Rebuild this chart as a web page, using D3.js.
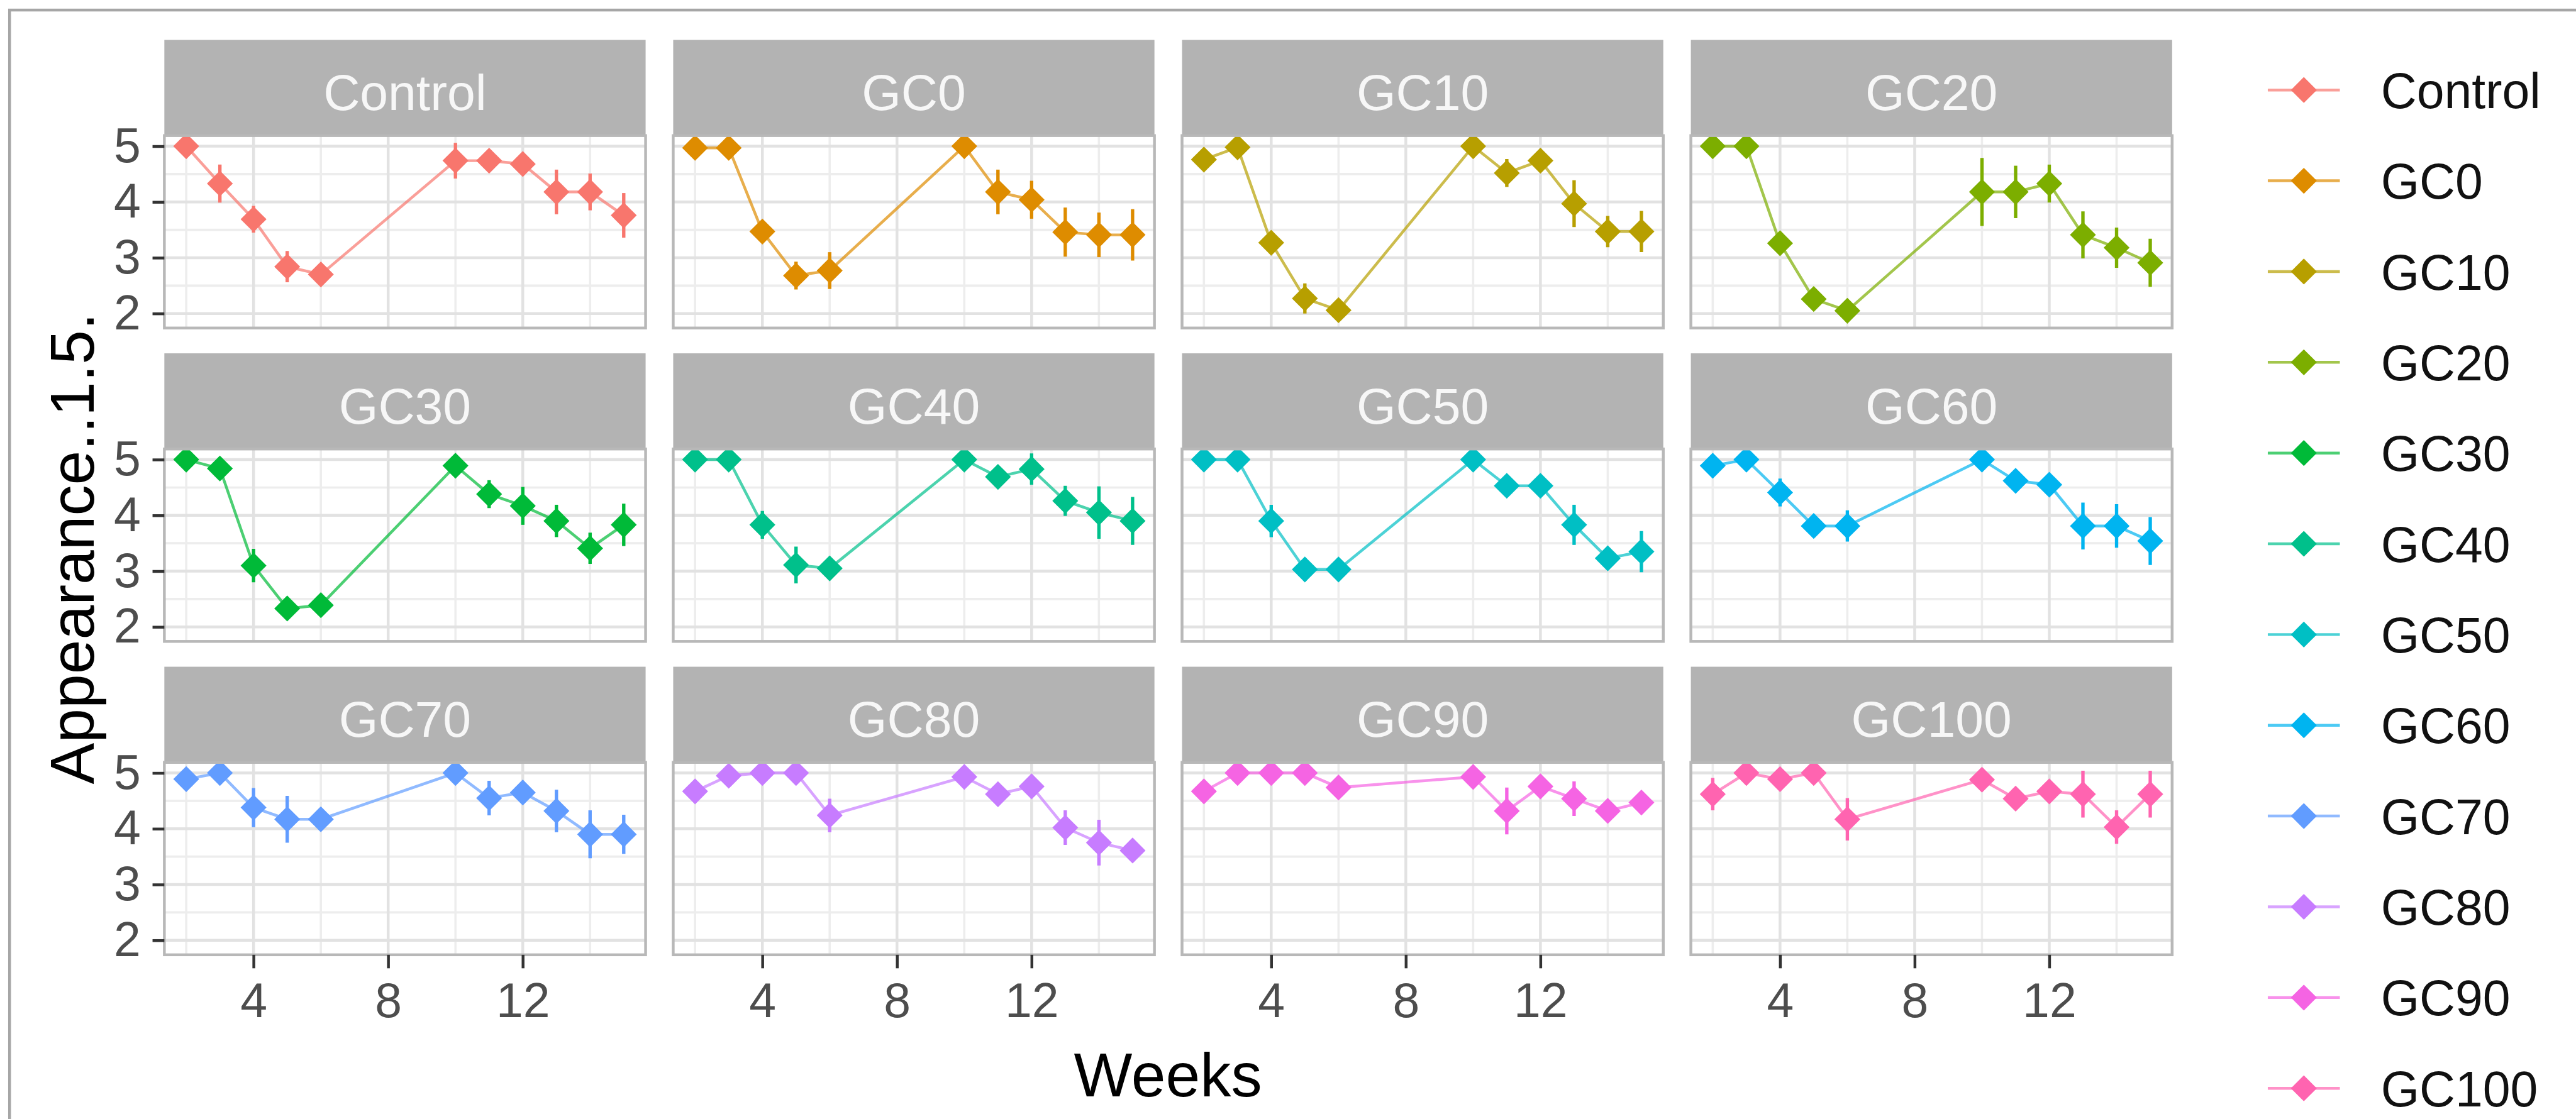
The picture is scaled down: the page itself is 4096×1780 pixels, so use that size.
<!DOCTYPE html>
<html>
<head>
<meta charset="utf-8">
<script src="https://cdn.jsdelivr.net/npm/d3@7"></script>
<style>
  body { margin: 0; background: #fff; }
  svg { display: block; }
  text { font-family: "Liberation Sans", Arial, sans-serif; }
</style>
</head>
<body>
<div id="chart"></div>
<script>
// facet names, weeks and ggplot hue colours
const groups = ['Control', 'GC0', 'GC10', 'GC20', 'GC30', 'GC40', 'GC50', 'GC60', 'GC70', 'GC80', 'GC90', 'GC100'];
const weeks = [2, 3, 4, 5, 6, 10, 11, 12, 13, 14, 15];
const colors = ['#F8766D', '#DE8C00', '#B79F00', '#7CAE00', '#00BA38', '#00C08B', '#00BFC4', '#00B4F0', '#619CFF', '#C77CFF', '#F564E3', '#FF64B0'];

// mean appearance score per week
const appControl = [5.0, 4.33, 3.69, 2.84, 2.70, 4.74, 4.74, 4.68, 4.18, 4.18, 3.76];
const appGC0 = [4.97, 4.97, 3.47, 2.68, 2.77, 5.0, 4.18, 4.04, 3.46, 3.41, 3.41];
const appGC10 = [4.76, 4.98, 3.27, 2.27, 2.06, 5.0, 4.52, 4.74, 3.97, 3.47, 3.47];
const appGC20 = [5.0, 5.0, 3.26, 2.26, 2.05, 4.18, 4.18, 4.33, 3.41, 3.18, 2.91];
const appGC30 = [5.0, 4.84, 3.10, 2.33, 2.39, 4.89, 4.38, 4.17, 3.90, 3.41, 3.83];
const appGC40 = [5.0, 5.0, 3.83, 3.11, 3.05, 5.0, 4.69, 4.83, 4.26, 4.05, 3.90];
const appGC50 = [5.0, 5.0, 3.90, 3.03, 3.03, 5.0, 4.53, 4.53, 3.83, 3.23, 3.35];
const appGC60 = [4.89, 5.0, 4.41, 3.81, 3.81, 5.0, 4.62, 4.55, 3.81, 3.81, 3.54];
const appGC70 = [4.89, 5.0, 4.38, 4.17, 4.17, 5.0, 4.55, 4.65, 4.32, 3.90, 3.90];
const appGC80 = [4.67, 4.95, 5.0, 5.0, 4.24, 4.93, 4.62, 4.76, 4.02, 3.75, 3.61];
const appGC90 = [4.67, 5.0, 5.0, 5.0, 4.74, 4.93, 4.32, 4.76, 4.54, 4.32, 4.47];
const appGC100 = [4.62, 5.0, 4.89, 5.0, 4.17, 4.88, 4.54, 4.67, 4.62, 4.03, 4.62];

// error bar half-lengths
const errControl = [0.0, 0.34, 0.24, 0.28, 0.10, 0.32, 0.12, 0.15, 0.40, 0.33, 0.40];
const errGC0 = [0.05, 0.05, 0.10, 0.25, 0.33, 0.0, 0.40, 0.34, 0.44, 0.40, 0.46];
const errGC10 = [0.08, 0.05, 0.10, 0.27, 0.15, 0.0, 0.25, 0.20, 0.42, 0.28, 0.37];
const errGC20 = [0.0, 0.0, 0.10, 0.15, 0.10, 0.61, 0.47, 0.34, 0.42, 0.36, 0.43];
const errGC30 = [0.0, 0.20, 0.30, 0.15, 0.10, 0.15, 0.25, 0.34, 0.29, 0.28, 0.38];
const errGC40 = [0.0, 0.0, 0.25, 0.33, 0.10, 0.0, 0.15, 0.28, 0.27, 0.47, 0.43];
const errGC50 = [0.0, 0.0, 0.29, 0.20, 0.20, 0.0, 0.15, 0.15, 0.36, 0.20, 0.37];
const errGC60 = [0.10, 0.0, 0.25, 0.20, 0.28, 0.0, 0.20, 0.15, 0.42, 0.39, 0.43];
const errGC70 = [0.10, 0.0, 0.35, 0.42, 0.15, 0.0, 0.31, 0.20, 0.38, 0.43, 0.35];
const errGC80 = [0.10, 0.10, 0.0, 0.0, 0.30, 0.10, 0.20, 0.20, 0.31, 0.41, 0.20];
const errGC90 = [0.10, 0.0, 0.0, 0.0, 0.10, 0.10, 0.42, 0.15, 0.31, 0.20, 0.20];
const errGC100 = [0.29, 0.0, 0.10, 0.0, 0.38, 0.20, 0.15, 0.15, 0.42, 0.30, 0.42];

const yTicks = [2, 3, 4, 5];
const xTicks = [4, 8, 12];
const yMinor = [2.5, 3.5, 4.5];
const xMinor = [2, 6, 10, 14];

const allMeans = [appControl, appGC0, appGC10, appGC20, appGC30, appGC40, appGC50, appGC60, appGC70, appGC80, appGC90, appGC100];
const allErrs = [errControl, errGC0, errGC10, errGC20, errGC30, errGC40, errGC50, errGC60, errGC70, errGC80, errGC90, errGC100];

const series = groups.map((g, i) => ({
  name: g,
  color: colors[i],
  values: weeks.map((w, j) => ({ week: w, value: allMeans[i][j], err: allErrs[i][j] }))
}));

// layout in reference pixels, then everything scaled to the window
const S = 0.895;
const colX = [292, 1196, 2100, 3004];
const rowY = [71, 628, 1185];
const panelW = 855, stripH = 170, panelH = 342;

const x = d3.scaleLinear().domain([1.35, 15.65]).range([0, panelW]);
const y = d3.scaleLinear().domain([1.74, 5.19]).range([panelH, 0]);

const svg = d3.select('#chart').append('svg')
    .attr('width', 4096)
    .attr('height', 1780);
const root = svg.append('g').attr('transform', 'scale(' + S + ')');

// outer frame of the screenshot
root.append('path')
    .attr('d', 'M17,1990 L17,18 L4580,18')
    .attr('fill', 'none')
    .attr('stroke', '#A6A6A6')
    .attr('stroke-width', 5);

const diamond = d3.symbol(d3.symbolDiamond2, 1350);
const line = d3.line().x(d => x(d.week)).y(d => y(d.value));

series.forEach((s, i) => {
  const col = i % 4, row = Math.floor(i / 4);
  const g = root.append('g').attr('transform', 'translate(' + colX[col] + ',' + rowY[row] + ')');

  // strip
  g.append('rect')
      .attr('width', panelW).attr('height', stripH)
      .attr('fill', '#B3B3B3');
  g.append('text')
      .attr('x', panelW / 2).attr('y', 125)
      .attr('text-anchor', 'middle')
      .attr('font-size', 90)
      .attr('fill', '#F7F7F7')
      .text(s.name);

  const p = g.append('g').attr('transform', 'translate(0,' + stripH + ')');
  p.append('rect').attr('width', panelW).attr('height', panelH).attr('fill', '#fff');

  const clipId = 'clip' + i;
  p.append('clipPath').attr('id', clipId)
      .append('rect').attr('width', panelW).attr('height', panelH);

  // grid
  p.selectAll('.ymin').data(yMinor).enter().append('line')
      .attr('x1', 0).attr('x2', panelW)
      .attr('y1', d => y(d)).attr('y2', d => y(d))
      .attr('stroke', '#EDEDED').attr('stroke-width', 4);
  p.selectAll('.xmin').data(xMinor).enter().append('line')
      .attr('y1', 0).attr('y2', panelH)
      .attr('x1', d => x(d)).attr('x2', d => x(d))
      .attr('stroke', '#EDEDED').attr('stroke-width', 4);
  p.selectAll('.ymaj').data(yTicks).enter().append('line')
      .attr('x1', 0).attr('x2', panelW)
      .attr('y1', d => y(d)).attr('y2', d => y(d))
      .attr('stroke', '#E2E2E2').attr('stroke-width', 5);
  p.selectAll('.xmaj').data(xTicks).enter().append('line')
      .attr('y1', 0).attr('y2', panelH)
      .attr('x1', d => x(d)).attr('x2', d => x(d))
      .attr('stroke', '#E2E2E2').attr('stroke-width', 5);

  const marks = p.append('g').attr('clip-path', 'url(#' + clipId + ')');

  marks.append('path')
      .datum(s.values)
      .attr('fill', 'none')
      .attr('stroke', s.color)
      .attr('stroke-opacity', 0.7)
      .attr('stroke-width', 5)
      .attr('d', line);

  marks.selectAll('.err').data(s.values.filter(d => d.err > 0)).enter().append('line')
      .attr('x1', d => x(d.week)).attr('x2', d => x(d.week))
      .attr('y1', d => y(d.value - d.err)).attr('y2', d => y(d.value + d.err))
      .attr('stroke', s.color)
      .attr('stroke-width', 6);

  marks.selectAll('.pt').data(s.values).enter().append('path')
      .attr('transform', d => 'translate(' + x(d.week) + ',' + y(d.value) + ')')
      .attr('d', diamond)
      .attr('fill', s.color);

  p.append('rect')
      .attr('width', panelW).attr('height', panelH)
      .attr('fill', 'none')
      .attr('stroke', '#B8B8B8')
      .attr('stroke-width', 5);

  // y axis on first column
  if (col === 0) {
    const ya = p.append('g')
        .call(d3.axisLeft(y).tickValues(yTicks).tickSize(21).tickPadding(21).tickFormat(d3.format('d')));
    ya.select('.domain').remove();
    ya.selectAll('line').attr('stroke', '#333').attr('stroke-width', 5);
    ya.selectAll('text')
        .attr('font-size', 86)
        .attr('fill', '#4D4D4D')
        .attr('font-family', '"Liberation Sans", Arial, sans-serif');
  }
  // x axis on last row
  if (row === 2) {
    const xa = p.append('g')
        .attr('transform', 'translate(0,' + panelH + ')')
        .call(d3.axisBottom(x).tickValues(xTicks).tickSize(24).tickPadding(26).tickFormat(d3.format('d')));
    xa.select('.domain').remove();
    xa.selectAll('line').attr('stroke', '#333').attr('stroke-width', 5);
    xa.selectAll('text')
        .attr('font-size', 86)
        .attr('fill', '#4D4D4D')
        .attr('font-family', '"Liberation Sans", Arial, sans-serif');
  }
});

// axis titles
root.append('text')
    .attr('x', 2075).attr('y', 1949)
    .attr('text-anchor', 'middle')
    .attr('font-size', 110)
    .attr('fill', '#000')
    .text('Weeks');
root.append('text')
    .attr('transform', 'translate(166,975) rotate(-90)')
    .attr('text-anchor', 'middle')
    .attr('font-size', 110)
    .attr('fill', '#000')
    .text('Appearance..1.5.');

// legend
const legend = root.append('g');
const legendItem = legend.selectAll('g').data(series).enter().append('g')
    .attr('transform', (d, i) => 'translate(0,' + (160 + i * 161.3) + ')');
legendItem.append('line')
    .attr('x1', 4029).attr('x2', 4157)
    .attr('stroke', d => d.color)
    .attr('stroke-opacity', 0.7)
    .attr('stroke-width', 5);
legendItem.append('path')
    .attr('transform', 'translate(4093,0)')
    .attr('d', diamond)
    .attr('fill', d => d.color);
legendItem.append('text')
    .attr('x', 4230).attr('y', 32)
    .attr('font-size', 88)
    .attr('fill', '#111')
    .text(d => d.name);
</script>
</body>
</html>
